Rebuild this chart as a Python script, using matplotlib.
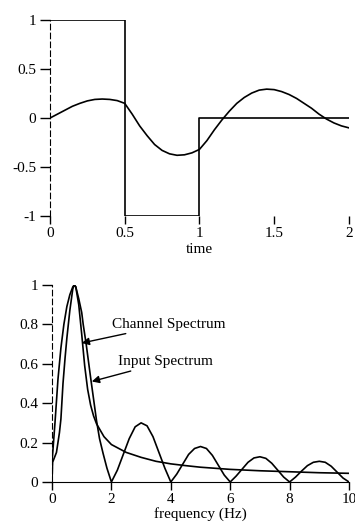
import matplotlib
matplotlib.use("Agg")
import matplotlib.pyplot as plt

plt.rcParams['font.family'] = ['Liberation Serif', 'DejaVu Serif']
plt.rcParams['font.size'] = 11

# top panel: square input and channel output
sq_t = [0, 0.5, 0.5, 1, 1, 2]
sq_v = [1, 1, -1, -1, 0, 0]

out_t = [0, 0.05, 0.1, 0.15, 0.2, 0.25, 0.3, 0.35, 0.4, 0.45, 0.5,
         0.55, 0.6, 0.65, 0.7, 0.75, 0.8, 0.85, 0.9, 0.95, 1.0,
         1.05, 1.1, 1.15, 1.2, 1.25, 1.3, 1.35, 1.4, 1.45, 1.5,
         1.55, 1.6, 1.65, 1.7, 1.75, 1.8, 1.85, 1.9, 1.95, 2.0]
out_v = [0, 0.04, 0.08, 0.12, 0.15, 0.175, 0.19, 0.194, 0.19, 0.178, 0.15,
         0.04, -0.08, -0.18, -0.27, -0.33, -0.365, -0.38, -0.375, -0.355, -0.32,
         -0.23, -0.12, -0.02, 0.07, 0.15, 0.21, 0.255, 0.285, 0.295, 0.29,
         0.27, 0.24, 0.2, 0.15, 0.1, 0.04, -0.01, -0.05, -0.08, -0.1]

time_ticks = [0, 0.5, 1, 1.5, 2]
time_labels = ['0', '0.5', '1', '1.5', '2']
amp_ticks = [-1, -0.5, 0, 0.5, 1]
amp_labels = ['-1', '-0.5', '0', '0.5', '1']

# bottom panel: spectra
ch_f = [0, 0.05, 0.1, 0.2, 0.3, 0.4, 0.5, 0.6, 0.7, 0.75, 0.8, 0.9, 1.0,
        1.1, 1.2, 1.3, 1.4, 1.5, 1.75, 2, 2.5, 3, 3.5, 4, 4.5, 5,
        6, 7, 8, 9, 10]
ch_v = [0.1, 0.2, 0.3, 0.52, 0.68, 0.8, 0.89, 0.95, 0.99, 1.0, 0.99, 0.9, 0.75,
        0.59, 0.47, 0.39, 0.335, 0.295, 0.23, 0.19, 0.15, 0.125, 0.105, 0.092, 0.083, 0.075,
        0.064, 0.057, 0.052, 0.047, 0.044]

in_f = [0, 0.02, 0.15, 0.25, 0.3, 0.37, 0.44, 0.5, 0.6, 0.7, 0.75, 0.8, 0.9, 1.0,
        1.05, 1.15, 1.3, 1.4, 1.5, 1.6, 1.72, 1.85, 2.0,
        2.2, 2.4, 2.6, 2.8, 3.0, 3.2, 3.4, 3.6, 3.8, 4.0,
        4.2, 4.4, 4.6, 4.8, 5.0, 5.2, 5.4, 5.6, 5.8, 6.0,
        6.2, 6.4, 6.6, 6.8, 7.0, 7.2, 7.4, 7.6, 7.8, 8.0,
        8.2, 8.4, 8.6, 8.8, 9.0, 9.2, 9.4, 9.6, 9.8, 10.0]
in_v = [0, 0.1, 0.15, 0.25, 0.32, 0.5, 0.63, 0.73, 0.87, 0.98, 1.0, 0.99, 0.93, 0.86,
        0.8, 0.7, 0.53, 0.42, 0.31, 0.22, 0.145, 0.07, 0,
        0.06, 0.14, 0.22, 0.28, 0.3, 0.285, 0.23, 0.15, 0.07, 0,
        0.04, 0.09, 0.14, 0.17, 0.18, 0.17, 0.135, 0.085, 0.035, 0,
        0.03, 0.065, 0.1, 0.122, 0.128, 0.12, 0.095, 0.06, 0.025, 0,
        0.025, 0.055, 0.083, 0.1, 0.105, 0.1, 0.08, 0.05, 0.02, 0]

freq_ticks = [0, 2, 4, 6, 8, 10]
freq_labels = ['0', '2', '4', '6', '8', '10']
mag_ticks = [0, 0.2, 0.4, 0.6, 0.8, 1]
mag_labels = ['0', '0.2', '0.4', '0.6', '0.8', '1']

fig = plt.figure(figsize=(3.55, 5.27), dpi=100)

ax1 = fig.add_axes([0.1408, 0.590, 0.842, 0.372])
ax1.plot(sq_t, sq_v, color='black', lw=1.2)
ax1.plot(out_t, out_v, color='black', lw=1.2)
ax1.set_xlim(0, 2)
ax1.set_ylim(-1, 1)
ax1.set_xticks(time_ticks)
ax1.set_xticklabels(time_labels)
ax1.set_yticks(amp_ticks)
ax1.set_yticklabels(amp_labels)
ax1.set_xlabel('time', labelpad=2)
ax1.spines['top'].set_visible(False)
ax1.spines['right'].set_visible(False)
ax1.spines['bottom'].set_visible(False)
ax1.spines['left'].set_linestyle((0, (5, 3)))
ax1.tick_params(axis='y', direction='out', length=7, width=1, pad=3)
ax1.tick_params(axis='x', direction='out', length=6, width=1, pad=2)

ax2 = fig.add_axes([0.1465, 0.0854, 0.8366, 0.374])
ax2.plot(ch_f, ch_v, color='black', lw=1.2)
ax2.plot(in_f, in_v, color='black', lw=1.2)
ax2.set_xlim(0, 10)
ax2.set_ylim(0, 1)
ax2.set_xticks(freq_ticks)
ax2.set_xticklabels(freq_labels)
ax2.set_yticks(mag_ticks)
ax2.set_yticklabels(mag_labels)
ax2.set_xlabel('frequency (Hz)', labelpad=1)
ax2.spines['top'].set_visible(False)
ax2.spines['right'].set_visible(False)
ax2.spines['left'].set_linestyle((0, (5, 3)))
ax2.tick_params(axis='y', direction='out', length=7, width=1, pad=3)
ax2.tick_params(axis='x', direction='out', length=6, width=1, pad=2)

arrow = dict(arrowstyle='-|>', color='black', lw=1, mutation_scale=11,
             shrinkA=0, shrinkB=0)
ax2.annotate('Channel Spectrum', xy=(1.0, 0.705), xytext=(2.03, 0.80),
             ha='left', va='center', arrowprops=arrow)
ax2.annotate('Input Spectrum', xy=(1.34, 0.51), xytext=(2.22, 0.61),
             ha='left', va='center', arrowprops=arrow)

fig.savefig('out.png', dpi=100)
